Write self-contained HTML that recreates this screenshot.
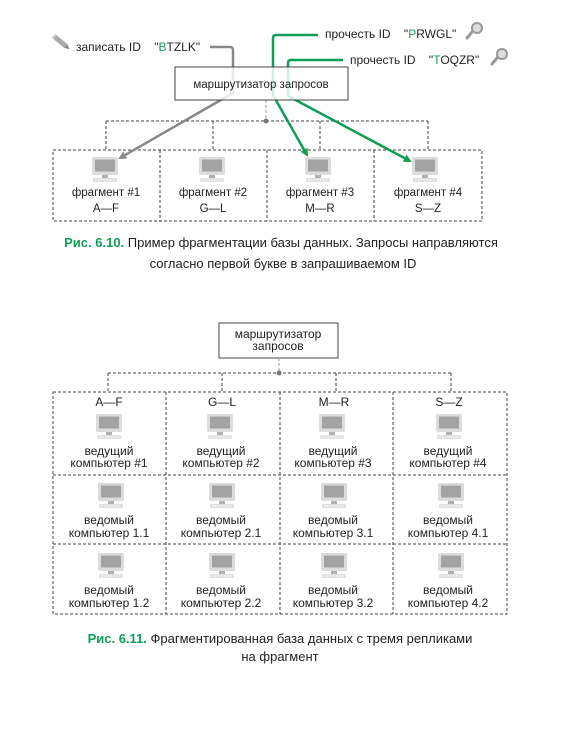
<!DOCTYPE html>
<html><head><meta charset="utf-8"><style>
body{margin:0;background:#fff;}
svg{display:block;font-family:"Liberation Sans",sans-serif;}
</style></head><body>
<svg width="561" height="736" viewBox="0 0 561 736" xmlns="http://www.w3.org/2000/svg">
<defs>
<g id="mon">
<rect x="0" y="0" width="26" height="18" rx="2" fill="#dcdcdc"/>
<rect x="3" y="2.5" width="20" height="12" fill="#a3a3a3"/>
<rect x="10" y="18" width="6" height="3" fill="#b0b0b0"/>
<rect x="1" y="21" width="24" height="4" rx="1.5" fill="#e0e0e0"/>
<line x1="3" y1="23" x2="23" y2="23" stroke="#fff" stroke-width="1" stroke-dasharray="1.5 1.5"/>
</g>
<marker id="ag" markerWidth="8" markerHeight="8" refX="6" refY="4" orient="auto" markerUnits="userSpaceOnUse"><path d="M0,0 L8,4 L0,8 Z" fill="#888"/></marker>
<marker id="agr" markerWidth="8" markerHeight="8" refX="6" refY="4" orient="auto" markerUnits="userSpaceOnUse"><path d="M0,0 L8,4 L0,8 Z" fill="#0f9d58"/></marker>
</defs>

<!-- FIG 1 -->
<g fill="none" stroke="#444" stroke-width="1" stroke-dasharray="3 2">
<line x1="266" y1="100" x2="266" y2="121" stroke="#999"/>
<line x1="106" y1="121" x2="428" y2="121"/>
<line x1="106" y1="121" x2="106" y2="150"/>
<line x1="213" y1="121" x2="213" y2="150"/>
<line x1="320" y1="121" x2="320" y2="150"/>
<line x1="428" y1="121" x2="428" y2="150"/>
<rect x="53" y="150" width="429" height="71"/>
<line x1="160" y1="150" x2="160" y2="221"/>
<line x1="267" y1="150" x2="267" y2="221"/>
<line x1="374" y1="150" x2="374" y2="221"/>
</g>
<circle cx="266" cy="121" r="2.5" fill="#777"/>

<use href="#mon" x="92" y="157"/>
<use href="#mon" x="199" y="157"/>
<use href="#mon" x="305" y="157"/>
<use href="#mon" x="412" y="157"/>

<g font-size="11.5" fill="#222" text-anchor="middle">
<text x="106" y="196">фрагмент #1</text><text x="106" y="212">A—F</text>
<text x="213" y="196">фрагмент #2</text><text x="213" y="212">G—L</text>
<text x="320" y="196">фрагмент #3</text><text x="320" y="212">M—R</text>
<text x="428" y="196">фрагмент #4</text><text x="428" y="212">S—Z</text>
</g>

<path d="M210,47 H230 Q233,47 233,50 V93 L120,158" fill="none" stroke="#888" stroke-width="2.5" marker-end="url(#ag)"/>
<path d="M318,35 H276 Q273,35 273,38 V95 L307,155" fill="none" stroke="#0f9d58" stroke-width="2.5" marker-end="url(#agr)"/>
<path d="M343,60 H291 Q288,60 288,63 V96 L410,161" fill="none" stroke="#0f9d58" stroke-width="2.5" marker-end="url(#agr)"/>

<rect x="175" y="67" width="173" height="33" fill="#fff" fill-opacity="0.82" stroke="#444" stroke-width="1"/>
<text x="261" y="88" font-size="11.5" fill="#222" text-anchor="middle">маршрутизатор запросов</text>

<g transform="translate(55,37) rotate(40)">
<rect x="0" y="-2.5" width="14" height="5" fill="#aaa"/>
<path d="M14,-2.5 L19,0 L14,2.5 Z" fill="#888"/>
<rect x="-2" y="-2.5" width="2" height="5" fill="#ccc"/>
</g>
<g font-size="12" fill="#222">
<text x="76" y="51">записать ID &#160; &#160;"<tspan fill="#0f9d58">B</tspan>TZLK"</text>
<text x="325" y="38">прочесть ID &#160; &#160;"<tspan fill="#0f9d58">P</tspan>RWGL"</text>
<text x="350" y="64">прочесть ID &#160; &#160;"<tspan fill="#0f9d58">T</tspan>OQZR"</text>
</g>
<g stroke="#999" stroke-width="3" stroke-linecap="round" fill="none">
<line x1="472" y1="32" x2="467" y2="38"/>
<line x1="497" y1="58" x2="492" y2="64"/>
</g>
<circle cx="477" cy="28" r="5" fill="#ddd" stroke="#999" stroke-width="2"/>
<circle cx="502" cy="54" r="5" fill="#ddd" stroke="#999" stroke-width="2"/>

<g font-size="13" text-anchor="middle" fill="#222">
<text x="281" y="247"><tspan fill="#0f9d58" font-weight="bold">Рис. 6.10.</tspan> Пример фрагментации базы данных. Запросы направляются</text>
<text x="283" y="268">согласно первой букве в запрашиваемом ID</text>
</g>

<!-- FIG 2 -->
<rect x="219" y="323" width="119" height="35" fill="#fff" stroke="#444"/>
<g font-size="12" fill="#222" text-anchor="middle">
<text x="278" y="338">маршрутизатор</text><text x="278" y="350">запросов</text>
</g>
<g fill="none" stroke="#444" stroke-width="1" stroke-dasharray="3 2">
<line x1="279" y1="358" x2="279" y2="373" stroke="#999"/>
<line x1="108" y1="373" x2="451" y2="373"/>
<line x1="108" y1="373" x2="108" y2="392"/>
<line x1="222" y1="373" x2="222" y2="392"/>
<line x1="336" y1="373" x2="336" y2="392"/>
<line x1="451" y1="373" x2="451" y2="392"/>
<rect x="53" y="392" width="454" height="222"/>
<line x1="166" y1="392" x2="166" y2="614"/>
<line x1="280" y1="392" x2="280" y2="614"/>
<line x1="393" y1="392" x2="393" y2="614"/>
<line x1="53" y1="475" x2="507" y2="475"/>
<line x1="53" y1="544" x2="507" y2="544"/>
</g>
<circle cx="279" cy="373" r="2.5" fill="#777"/>

<g>
<use href="#mon" x="96" y="414"/><use href="#mon" x="207" y="414"/><use href="#mon" x="319" y="414"/><use href="#mon" x="436" y="414"/>
<use href="#mon" x="98" y="483"/><use href="#mon" x="209" y="483"/><use href="#mon" x="321" y="483"/><use href="#mon" x="438" y="483"/>
<use href="#mon" x="98" y="553"/><use href="#mon" x="209" y="553"/><use href="#mon" x="321" y="553"/><use href="#mon" x="438" y="553"/>
</g>
<g font-size="12" fill="#222" text-anchor="middle">
<text x="109" y="406">A—F</text><text x="222" y="406">G—L</text><text x="334" y="406">M—R</text><text x="449" y="406">S—Z</text>
<text x="109" y="455">ведущий</text><text x="109" y="467">компьютер #1</text>
<text x="221" y="455">ведущий</text><text x="221" y="467">компьютер #2</text>
<text x="333" y="455">ведущий</text><text x="333" y="467">компьютер #3</text>
<text x="448" y="455">ведущий</text><text x="448" y="467">компьютер #4</text>
<text x="109" y="524">ведомый</text><text x="109" y="537">компьютер 1.1</text>
<text x="221" y="524">ведомый</text><text x="221" y="537">компьютер 2.1</text>
<text x="333" y="524">ведомый</text><text x="333" y="537">компьютер 3.1</text>
<text x="448" y="524">ведомый</text><text x="448" y="537">компьютер 4.1</text>
<text x="109" y="594">ведомый</text><text x="109" y="607">компьютер 1.2</text>
<text x="221" y="594">ведомый</text><text x="221" y="607">компьютер 2.2</text>
<text x="333" y="594">ведомый</text><text x="333" y="607">компьютер 3.2</text>
<text x="448" y="594">ведомый</text><text x="448" y="607">компьютер 4.2</text>
</g>
<g font-size="13" text-anchor="middle" fill="#222">
<text x="280" y="643"><tspan fill="#0f9d58" font-weight="bold">Рис. 6.11.</tspan> Фрагментированная база данных с тремя репликами</text>
<text x="280" y="661">на фрагмент</text>
</g>
</svg>
</body></html>
